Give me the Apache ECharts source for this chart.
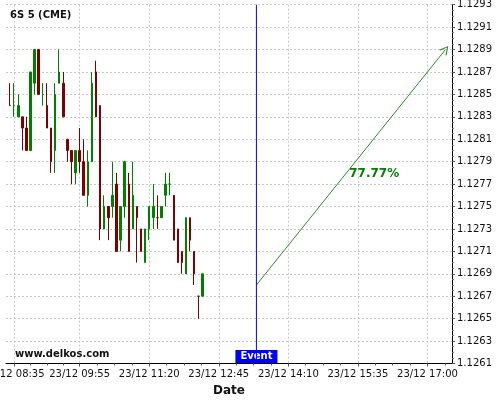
<!DOCTYPE html>
<html><head><meta charset="utf-8">
<script src="https://cdn.jsdelivr.net/npm/echarts@6/dist/echarts.min.js"></script>
<style>html,body{margin:0;padding:0;background:#fff}#c{width:500px;height:400px}</style>
</head><body><div id="c"></div>
<script>
// ---- data ----
const times = ['08:30','08:35','08:40','08:45','08:50','08:55','09:00','09:05','09:10','09:15','09:20','09:25',
  '09:30','09:35','09:40','09:45','09:50','09:55','10:00','10:05','10:10','10:15','10:20','10:25',
  '10:30','10:35','10:40','10:45','10:50','10:55','11:00','11:05','11:10','11:15','11:20','11:25',
  '11:30','11:35','11:40','11:45','11:50','11:55','12:00','12:05','12:10','12:15','12:20','12:25'];
const opens  = [1.1284,1.1284,1.1283,1.1283,1.1282,1.1280,1.1286,1.1289,1.1285,1.1284,1.1282,1.1280,
  1.1286,1.1286,1.1281,1.1280,1.1278,1.1280,1.1279,1.1276,1.1279,1.1287,1.1284,1.1273,
  1.1275,1.1275,1.1277,1.1272,1.1275,1.1277,1.1273,1.1275,1.1273,1.1270,1.1273,1.1274,
  1.1274,1.1274,1.1276,1.1277,1.1276,1.1273,1.1271,1.1269,1.1274,1.1271,1.1267,1.1267];
const closes = [1.1284,1.1284,1.1284,1.1282,1.1280,1.1287,1.1289,1.1285,1.1285,1.1282,1.1279,1.1285,
  1.1287,1.1283,1.1280,1.1279,1.1280,1.1279,1.1276,1.1279,1.1286,1.1283,1.1273,1.1275,
  1.1274,1.1276,1.1271,1.1275,1.1279,1.1271,1.1276,1.1274,1.1271,1.1273,1.1275,1.1275,
  1.1274,1.1275,1.1277,1.1277,1.1272,1.1270,1.1270,1.1274,1.1272,1.1269,1.1267,1.1269];
const lows   = [1.1284,1.1283,1.1283,1.1280,1.1280,1.1280,1.1285,1.1285,1.1284,1.1282,1.1278,1.1278,
  1.1286,1.1283,1.1279,1.1277,1.1277,1.1278,1.1276,1.1275,1.1279,1.1283,1.1272,1.1273,
  1.1272,1.1274,1.1271,1.1271,1.1274,1.1271,1.1273,1.1270,1.1271,1.1270,1.1272,1.1273,
  1.1273,1.1274,1.1275,1.1276,1.1272,1.1270,1.1269,1.1269,1.1271,1.1268,1.1265,1.1267];
const highs  = [1.1286,1.1286,1.1285,1.1283,1.1283,1.1287,1.1289,1.1289,1.1286,1.1286,1.1282,1.1286,
  1.1289,1.1287,1.1281,1.1280,1.1280,1.1282,1.1281,1.1280,1.1287,1.1288,1.1284,1.1276,
  1.1275,1.1279,1.1278,1.1275,1.1279,1.1278,1.1279,1.1275,1.1273,1.1273,1.1275,1.1277,
  1.1276,1.1275,1.1278,1.1278,1.1276,1.1273,1.1271,1.1269,1.1274,1.1271,1.1267,1.1267];
const tickLabels = ['23/12 08:35','23/12 09:55','23/12 11:20','23/12 12:45','23/12 14:10','23/12 15:35','23/12 17:00'];
const xRange = ['08:25','17:30'];
const slotMinutes = 5;
const yMin = 1.1261, yMax = 1.1293, yStep = 0.0002;
const eventTime = '13:31';
const eventText = 'Event';
const forecastFrom = ['13:31', 1.1268];
const forecastTo = ['17:22', 1.1289];
const forecastText = '77.77%';
const forecastTextAt = ['15:55', 1.12779];
const titleText = '6S 5 (CME)';
const siteText = 'www.delkos.com';

// ---- build ----
const toMin = s => { const p = s.split(':'); return (+p[0]) * 60 + (+p[1]); };
const pad = n => String(n).padStart(2, '0');
const fmt = m => pad(Math.floor(m / 60)) + ':' + pad(m % 60);
const xMin = toMin(xRange[0]), xMax = toMin(xRange[1]);
const slots = [];
for (let m = xMin; m <= xMax; m += slotMinutes) slots.push(fmt(m));
const candleData = slots.map(s => {
  const i = times.indexOf(s);
  return i < 0 ? '-' : [opens[i], closes[i], lows[i], highs[i]];
});
const labelTimes = tickLabels.map(l => l.split(' ')[1]);
const labelOf = {};
tickLabels.forEach((l, i) => { labelOf[labelTimes[i]] = l; });
const isMajor = (i, v) => labelOf[v] !== undefined;
const majorVals = labelTimes.map(toMin);
const minorVals = [];
for (let i = 0; i < majorVals.length; i++) {
  const a = majorVals[i];
  const b = i + 1 < majorVals.length ? majorVals[i + 1] : a + (a - majorVals[i - 1]);
  for (let k = 1; k < 4; k++) { const v = a + (b - a) * k / 4; if (v <= xMax) minorVals.push(v); }
}
const FONT = 'DejaVu Sans';
const GREEN = '#008000', RED = '#800000', BLUE = '#0000ff', ARROW = '#2e8b2e';
const chart = echarts.init(document.getElementById('c'), null, {renderer: 'canvas'});
chart.setOption({
  animation: false,
  backgroundColor: '#fff',
  textStyle: {fontFamily: FONT},
  title: [
    {text: titleText, left: 10, top: 10, padding: 0, textStyle: {fontFamily: FONT, fontSize: 10, fontWeight: 'bold', color: '#111'}},
    {text: siteText, left: 15, top: 349, padding: 0, textStyle: {fontFamily: FONT, fontSize: 10, fontWeight: 'bold', color: '#111'}}
  ],
  grid: {left: 6, right: 48, top: 4.7, bottom: 36.5, containLabel: false, outerBoundsMode: 'none'},
  xAxis: [{
    type: 'category', data: slots, boundaryGap: false, position: 'bottom',
    axisLine: {show: true, lineStyle: {color: '#000', width: 1}},
    axisTick: {show: true, interval: isMajor, length: 3, lineStyle: {color: '#555'}},
    axisLabel: {show: true, interval: isMajor, margin: 6, fontSize: 10, color: '#111', fontFamily: FONT,
      formatter: v => labelOf[v] || ''},
    splitLine: {show: true, interval: isMajor, lineStyle: {color: '#c8c8c8', type: [2, 2], width: 1}},
    name: 'Date', nameLocation: 'middle', nameGap: 20,
    nameTextStyle: {fontFamily: FONT, fontSize: 12, fontWeight: 'bold', color: '#111'}
  }, {
    type: 'value', min: xMin, max: xMax, position: 'bottom',
    axisLine: {show: false},
    axisTick: {show: true, customValues: minorVals, length: 2, lineStyle: {color: '#555'}},
    axisLabel: {show: false},
    splitLine: {show: false}
  }],
  yAxis: {
    type: 'value', position: 'right', min: yMin, max: yMax, interval: yStep,
    axisLine: {show: true, onZero: false, lineStyle: {color: '#000', width: 1}},
    axisTick: {show: true, length: 3, lineStyle: {color: '#555'}},
    minorTick: {show: true, splitNumber: 4, length: 2, lineStyle: {color: '#777'}},
    axisLabel: {margin: 5, fontSize: 10, color: '#111', fontFamily: FONT, formatter: v => v.toFixed(4)},
    splitLine: {show: true, lineStyle: {color: '#c8c8c8', type: [2, 2], width: 1}}
  },
  series: [{
    type: 'candlestick',
    xAxisIndex: 0,
    data: candleData,
    barWidth: 2,
    itemStyle: {color: GREEN, color0: RED, borderColor: GREEN, borderColor0: RED, borderWidth: 1}
  }, {
    type: 'line',
    name: 'event',
    xAxisIndex: 1,
    silent: true,
    z: 5,
    symbol: 'none',
    data: [[toMin(eventTime), yMin], [toMin(eventTime), yMax]],
    lineStyle: {color: BLUE, width: 1, type: 'solid', opacity: 1},
    itemStyle: {color: BLUE},
    markLine: {
      silent: true,
      animation: false,
      symbol: ['none', 'none'],
      label: {show: false},
      data: [
        [{coord: [toMin(forecastFrom[0]), forecastFrom[1]], lineStyle: {color: ARROW, width: 1, type: 'solid'}},
         {coord: [toMin(forecastTo[0]), forecastTo[1]],
          symbol: 'path://M5,0 L10,9 L9,10 L5,2.2 L1,10 L0,9 Z', symbolSize: [9, 9]}]
      ]
    },
    markPoint: {
      silent: true,
      animation: false,
      symbol: 'rect',
      symbolSize: 1,
      itemStyle: {color: 'rgba(0,0,0,0)'},
      data: [
        {coord: [toMin(eventTime), yMin], label: {show: true, position: 'inside', offset: [0, -7], formatter: eventText,
          backgroundColor: BLUE, color: '#fff', fontWeight: 'bold', fontSize: 10, fontFamily: FONT, padding: [2, 5, 1, 5]}},
        {coord: [toMin(forecastTextAt[0]), forecastTextAt[1]], label: {show: true, position: 'inside', formatter: forecastText,
          color: GREEN, fontWeight: 'bold', fontSize: 12, fontFamily: FONT}}
      ]
    }
  }]
});
</script></body></html>
